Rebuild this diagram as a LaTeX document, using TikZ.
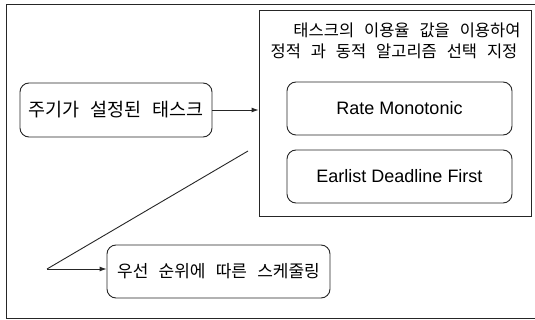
\documentclass[tikz,border=0pt]{standalone}
\usepackage{fontspec}
\setmainfont{Liberation Sans}
\newfontfamily\kr{Noto Sans CJK KR}
\usetikzlibrary{arrows.meta}
\newcommand{\krsize}[1]{\kr\fontsize{#1}{#1}\selectfont\spaceskip=0.6em\relax}
\tikzset{
  frame/.style={draw=black!85, line width=0.9pt},
  rbox/.style={draw=black!85, line width=0.9pt, rounded corners=9pt},
  conn/.style={draw=black!85, line width=0.9pt},
  arr/.style={conn, -{Latex[length=7pt,width=5pt]}},
  krtext/.style={inner sep=0pt},
  entext/.style={font=\fontsize{18}{22}\selectfont, inner sep=0pt}
}
\begin{document}
\begin{tikzpicture}[x=1pt,y=-1pt]
\useasboundingbox (0,0) rectangle (535,320);
\fill[white] (0,0) rectangle (535,320);
% outer frame (right side lies beyond the picture)
\draw[frame] (545,4) -- (6,4) -- (6,318) -- (545,318);
% big right box
\node[frame, draw, minimum width=272pt, minimum height=206pt, inner sep=0pt] (sel) at (395,113) {};
\node[krtext, font=\krsize{16.5}] (t1) at (407,30) {태스크의 이용율 값을 이용하여};
\node[krtext, font=\krsize{16.5}] (t2) at (394,51) {정적 과 동적 알고리즘 선택 지정};
\node[rbox, minimum width=225pt, minimum height=53pt, inner sep=0pt] (rm) at (399.5,108.5) {};
\node[entext] at (rm) {Rate Monotonic};
\node[rbox, minimum width=225pt, minimum height=53pt, inner sep=0pt] (edf) at (399.5,176.5) {};
\node[entext] at (edf) {Earlist Deadline First};
% left box
\node[rbox, minimum width=192pt, minimum height=54pt, inner sep=0pt] (task) at (116,110) {};
\node[krtext, font=\krsize{18.5}] at (task) {주기가 설정된 태스크};
% bottom box
\node[rbox, minimum width=223pt, minimum height=53pt, inner sep=0pt] (sched) at (218.5,271.5) {};
\node[krtext, font=\krsize{17}] at (sched) {우선 순위에 따른 스케줄링};
% connectors
\draw[arr] (task.east) -- (sel.west |- task.east);
\coordinate (a) at (248,151);
\coordinate (b) at (47,269);
\draw[conn] (a) -- (b);
\draw[arr] (b) -- (sched.west |- b);
\end{tikzpicture}
\end{document}
